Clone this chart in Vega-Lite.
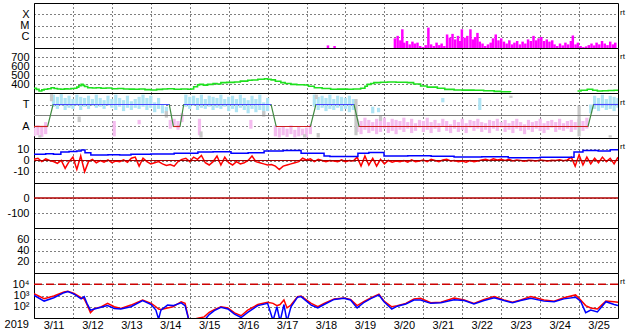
{
"$schema": "https://vega.github.io/schema/vega-lite/v6.json",
"background": "white",
"padding": {"left": 4, "top": 2, "right": 0, "bottom": 0},
"autosize": {"type": "pad"},
"bounds": "flush",
"spacing": 0,
"datasets": {
"xray": [
{"t":18.55,"xr":1.7e-7},{"t":18.72,"xr":1.5e-7},
{"t":20.27,"xr":7.2e-7},{"t":20.34,"xr":1.2e-6},{"t":20.41,"xr":4.8e-7},{"t":20.46,"xr":4.6e-6},{"t":20.51,"xr":3.0e-7},{"t":20.58,"xr":4.2e-7},{"t":20.65,"xr":2.1e-7},{"t":20.72,"xr":3.7e-7},{"t":20.78,"xr":2.5e-7},{"t":20.85,"xr":3.0e-7},{"t":20.92,"xr":1.5e-7},{"t":20.99,"xr":1.2e-7},{"t":21.06,"xr":1.8e-7},{"t":21.13,"xr":6.5e-6},{"t":21.2,"xr":2.1e-7},{"t":21.27,"xr":1.5e-7},{"t":21.34,"xr":3.0e-7},{"t":21.41,"xr":1.8e-7},{"t":21.47,"xr":2.5e-7},{"t":21.54,"xr":1.5e-7},{"t":21.61,"xr":1.6e-6},{"t":21.68,"xr":8.3e-7},{"t":21.75,"xr":1.8e-6},{"t":21.82,"xr":5.8e-7},{"t":21.89,"xr":1.2e-6},{"t":21.94,"xr":4.2e-7},{"t":21.99,"xr":4.6e-6},{"t":22.06,"xr":8.3e-7},{"t":22.13,"xr":1.2e-6},{"t":22.21,"xr":4.6e-6},{"t":22.27,"xr":5.8e-7},{"t":22.33,"xr":9.5e-7},{"t":22.39,"xr":2.2e-6},{"t":22.45,"xr":3.7e-7},{"t":22.52,"xr":2.5e-7},{"t":22.59,"xr":1.5e-7},{"t":22.66,"xr":2.1e-7},{"t":22.73,"xr":3.0e-7},{"t":22.79,"xr":7.2e-7},{"t":22.86,"xr":1.6e-6},{"t":22.93,"xr":4.8e-7},{"t":23.0,"xr":7.2e-7},{"t":23.07,"xr":3.7e-7},{"t":23.14,"xr":2.5e-7},{"t":23.21,"xr":4.8e-7},{"t":23.28,"xr":2.1e-7},{"t":23.34,"xr":3.0e-7},{"t":23.41,"xr":4.2e-7},{"t":23.48,"xr":2.1e-7},{"t":23.55,"xr":3.7e-7},{"t":23.62,"xr":2.5e-7},{"t":23.69,"xr":5.8e-7},{"t":23.76,"xr":4.2e-7},{"t":23.83,"xr":1.2e-6},{"t":23.9,"xr":4.8e-7},{"t":23.96,"xr":7.2e-7},{"t":24.03,"xr":9.5e-7},{"t":24.1,"xr":4.2e-7},{"t":24.17,"xr":5.8e-7},{"t":24.24,"xr":3.7e-7},{"t":24.31,"xr":4.8e-7},{"t":24.37,"xr":2.1e-7},{"t":24.44,"xr":1.5e-7},{"t":24.51,"xr":2.5e-7},{"t":24.58,"xr":1.7e-7},{"t":24.65,"xr":3.0e-7},{"t":24.72,"xr":2.1e-7},{"t":24.79,"xr":4.2e-7},{"t":24.84,"xr":1.3e-6},{"t":24.91,"xr":2.1e-7},{"t":24.97,"xr":3.0e-7},{"t":25.04,"xr":1.5e-7},{"t":25.11,"xr":1.2e-7},{"t":25.18,"xr":1.4e-7},{"t":25.25,"xr":1.8e-7},{"t":25.32,"xr":2.5e-7},{"t":25.39,"xr":1.7e-7},{"t":25.45,"xr":3.0e-7},{"t":25.52,"xr":2.1e-7},{"t":25.59,"xr":4.2e-7},{"t":25.66,"xr":2.5e-7},{"t":25.73,"xr":1.8e-7},{"t":25.8,"xr":3.7e-7},{"t":25.87,"xr":2.1e-7},{"t":25.93,"xr":3.0e-7}
],
"sw": [
{"t":11.0,"v":352,"g":1},{"t":11.06,"v":340,"g":1},{"t":11.13,"v":322,"g":1},{"t":11.2,"v":335,"g":1},{"t":11.26,"v":341,"g":1},{"t":11.35,"v":348,"g":1},{"t":11.44,"v":359,"g":1},{"t":11.52,"v":350,"g":1},{"t":11.6,"v":345,"g":1},{"t":11.69,"v":341,"g":1},{"t":11.78,"v":346,"g":1},{"t":11.87,"v":345,"g":1},{"t":11.95,"v":350,"g":1},{"t":12.04,"v":352,"g":1},{"t":12.1,"v":365,"g":1},{"t":12.15,"v":380,"g":1},{"t":12.21,"v":396,"g":1},{"t":12.26,"v":385,"g":1},{"t":12.3,"v":372,"g":1},{"t":12.38,"v":359,"g":1},{"t":12.5,"v":355,"g":1},{"t":12.6,"v":358,"g":1},{"t":12.72,"v":352,"g":1},{"t":12.85,"v":355,"g":1},{"t":13.0,"v":348,"g":1},{"t":13.15,"v":350,"g":1},{"t":13.3,"v":345,"g":1},{"t":13.45,"v":343,"g":1},{"t":13.58,"v":341,"g":1},{"t":13.7,"v":345,"g":1},{"t":13.85,"v":338,"g":1},{"t":14.01,"v":333,"g":1},{"t":14.15,"v":340,"g":1},{"t":14.3,"v":345,"g":1},{"t":14.43,"v":348,"g":1},{"t":14.6,"v":342,"g":1},{"t":14.78,"v":345,"g":1},{"t":14.95,"v":341,"g":1},{"t":15.03,"v":345,"g":1},{"t":15.1,"v":370,"g":1},{"t":15.2,"v":390,"g":1},{"t":15.25,"v":396,"g":1},{"t":15.35,"v":388,"g":1},{"t":15.46,"v":396,"g":1},{"t":15.6,"v":405,"g":1},{"t":15.7,"v":400,"g":1},{"t":15.8,"v":415,"g":1},{"t":15.95,"v":418,"g":1},{"t":16.15,"v":422,"g":1},{"t":16.3,"v":432,"g":1},{"t":16.49,"v":441,"g":1},{"t":16.6,"v":445,"g":1},{"t":16.75,"v":452,"g":1},{"t":16.92,"v":459,"g":1},{"t":17.0,"v":452,"g":1},{"t":17.09,"v":446,"g":1},{"t":17.2,"v":430,"g":1},{"t":17.34,"v":415,"g":1},{"t":17.45,"v":405,"g":1},{"t":17.6,"v":396,"g":1},{"t":17.75,"v":392,"g":1},{"t":17.94,"v":389,"g":1},{"t":18.05,"v":375,"g":1},{"t":18.2,"v":359,"g":1},{"t":18.4,"v":350,"g":1},{"t":18.62,"v":341,"g":1},{"t":18.8,"v":343,"g":1},{"t":19.05,"v":341,"g":1},{"t":19.2,"v":345,"g":1},{"t":19.39,"v":352,"g":1},{"t":19.5,"v":375,"g":1},{"t":19.56,"v":396,"g":1},{"t":19.65,"v":405,"g":1},{"t":19.73,"v":415,"g":1},{"t":19.9,"v":420,"g":1},{"t":20.08,"v":422,"g":1},{"t":20.3,"v":420,"g":1},{"t":20.59,"v":415,"g":1},{"t":20.75,"v":400,"g":1},{"t":20.93,"v":378,"g":1},{"t":21.1,"v":365,"g":1},{"t":21.36,"v":352,"g":1},{"t":21.55,"v":340,"g":1},{"t":21.79,"v":333,"g":1},{"t":22.0,"v":332,"g":1},{"t":22.3,"v":330,"g":1},{"t":22.55,"v":325,"g":1},{"t":22.82,"v":318,"g":1},{"t":23.0,"v":314,"g":1},{"t":23.24,"v":311,"g":1},
{"t":24.96,"v":322,"g":2},{"t":25.05,"v":330,"g":2},{"t":25.21,"v":341,"g":2},{"t":25.35,"v":330,"g":2},{"t":25.47,"v":322,"g":2},{"t":25.6,"v":325,"g":2},{"t":25.75,"v":328,"g":2},{"t":25.9,"v":330,"g":2},{"t":26.0,"v":332,"g":2}
],
"sec": [
{"t":11.0,"lo":-1.9,"hi":-1.1,"c":"A"},{"t":11.1,"lo":-1.8,"hi":-0.9,"c":"A"},{"t":11.2,"lo":-1.95,"hi":-1.0,"c":"A"},{"t":11.3,"lo":-1.7,"hi":-0.6,"c":"A"},
{"t":11.5,"lo":0.8,"hi":1.9,"c":"T"},{"t":11.6,"lo":0.6,"hi":1.7,"c":"T"},{"t":11.7,"lo":0.9,"hi":1.95,"c":"T"},{"t":11.8,"lo":0.5,"hi":1.6,"c":"T"},{"t":11.9,"lo":0.7,"hi":1.8,"c":"T"},{"t":12.0,"lo":0.6,"hi":1.5,"c":"T"},{"t":12.1,"lo":0.9,"hi":1.9,"c":"T"},{"t":12.2,"lo":0.5,"hi":1.7,"c":"T"},{"t":12.3,"lo":0.8,"hi":1.6,"c":"T"},{"t":12.4,"lo":0.6,"hi":1.8,"c":"T"},{"t":12.5,"lo":0.9,"hi":1.5,"c":"T"},{"t":12.6,"lo":0.7,"hi":1.9,"c":"T"},{"t":12.7,"lo":0.8,"hi":1.6,"c":"T"},{"t":12.8,"lo":0.6,"hi":1.4,"c":"T"},{"t":12.9,"lo":0.9,"hi":1.8,"c":"T"},{"t":13.0,"lo":0.7,"hi":1.5,"c":"T"},{"t":13.1,"lo":0.5,"hi":1.9,"c":"T"},{"t":13.2,"lo":0.8,"hi":1.6,"c":"T"},{"t":13.3,"lo":0.4,"hi":1.4,"c":"T"},{"t":13.4,"lo":0.7,"hi":1.8,"c":"T"},{"t":13.5,"lo":0.5,"hi":1.3,"c":"T"},{"t":13.6,"lo":0.7,"hi":1.5,"c":"T"},{"t":13.7,"lo":0.6,"hi":1.7,"c":"T"},{"t":13.8,"lo":0.8,"hi":1.9,"c":"T"},{"t":13.9,"lo":0.5,"hi":1.6,"c":"T"},{"t":14.0,"lo":0.7,"hi":1.8,"c":"T"},{"t":14.1,"lo":0.3,"hi":1.2,"c":"T"},{"t":14.2,"lo":0.6,"hi":1.6,"c":"T"},{"t":14.3,"lo":0.2,"hi":1.0,"c":"T"},{"t":14.4,"lo":0.0,"hi":0.8,"c":"T"},
{"t":14.5,"lo":-1.2,"hi":-0.4,"c":"A"},{"t":14.6,"lo":-0.9,"hi":-0.3,"c":"A"},{"t":14.7,"lo":-1.3,"hi":-0.5,"c":"A"},{"t":14.8,"lo":-0.6,"hi":0.2,"c":"A"},
{"t":14.9,"lo":0.8,"hi":1.9,"c":"T"},{"t":15.0,"lo":0.6,"hi":1.7,"c":"T"},{"t":15.1,"lo":0.9,"hi":1.8,"c":"T"},{"t":15.2,"lo":0.5,"hi":1.6,"c":"T"},{"t":15.3,"lo":0.7,"hi":1.9,"c":"T"},{"t":15.4,"lo":0.6,"hi":1.5,"c":"T"},{"t":15.5,"lo":0.8,"hi":1.8,"c":"T"},{"t":15.6,"lo":0.5,"hi":1.7,"c":"T"},{"t":15.7,"lo":0.7,"hi":1.6,"c":"T"},{"t":15.8,"lo":0.6,"hi":1.9,"c":"T"},{"t":15.9,"lo":0.8,"hi":1.5,"c":"T"},{"t":16.0,"lo":0.4,"hi":1.7,"c":"T"},{"t":16.1,"lo":0.6,"hi":1.8,"c":"T"},{"t":16.2,"lo":0.3,"hi":1.5,"c":"T"},{"t":16.3,"lo":0.7,"hi":1.9,"c":"T"},{"t":16.4,"lo":0.5,"hi":1.6,"c":"T"},{"t":16.5,"lo":0.2,"hi":1.4,"c":"T"},{"t":16.6,"lo":0.6,"hi":1.8,"c":"T"},{"t":16.7,"lo":0.3,"hi":1.5,"c":"T"},{"t":16.8,"lo":0.5,"hi":1.9,"c":"T"},{"t":16.9,"lo":0.1,"hi":1.2,"c":"T"},{"t":17.0,"lo":0.4,"hi":1.6,"c":"T"},
{"t":17.2,"lo":-1.9,"hi":-0.9,"c":"A"},{"t":17.3,"lo":-2.0,"hi":-1.1,"c":"A"},{"t":17.4,"lo":-1.8,"hi":-1.0,"c":"A"},{"t":17.5,"lo":-1.95,"hi":-1.2,"c":"A"},{"t":17.6,"lo":-1.7,"hi":-0.9,"c":"A"},{"t":17.7,"lo":-2.0,"hi":-1.3,"c":"A"},{"t":17.8,"lo":-1.9,"hi":-1.0,"c":"A"},{"t":17.9,"lo":-1.8,"hi":-1.2,"c":"A"},{"t":18.0,"lo":-2.0,"hi":-1.1,"c":"A"},{"t":18.1,"lo":-1.7,"hi":-0.8,"c":"A"},
{"t":18.2,"lo":0.8,"hi":1.9,"c":"T"},{"t":18.3,"lo":0.5,"hi":1.7,"c":"T"},{"t":18.4,"lo":0.7,"hi":1.8,"c":"T"},{"t":18.5,"lo":0.4,"hi":1.6,"c":"T"},{"t":18.6,"lo":0.6,"hi":1.9,"c":"T"},{"t":18.7,"lo":0.5,"hi":1.5,"c":"T"},{"t":18.8,"lo":0.7,"hi":1.8,"c":"T"},{"t":18.9,"lo":0.4,"hi":1.7,"c":"T"},{"t":19.0,"lo":0.6,"hi":1.6,"c":"T"},{"t":19.1,"lo":0.3,"hi":1.8,"c":"T"},{"t":19.2,"lo":0.5,"hi":1.5,"c":"T"},
{"t":19.3,"lo":-1.5,"hi":-0.3,"c":"A"},{"t":19.4,"lo":-1.7,"hi":-0.5,"c":"A"},{"t":19.5,"lo":-1.3,"hi":-0.2,"c":"A"},{"t":19.6,"lo":-1.6,"hi":-0.4,"c":"A"},{"t":19.7,"lo":-1.4,"hi":-0.6,"c":"A"},{"t":19.8,"lo":-1.7,"hi":-0.3,"c":"A"},{"t":19.9,"lo":-1.5,"hi":-0.5,"c":"A"},{"t":20.0,"lo":-1.2,"hi":-0.2,"c":"A"},{"t":20.1,"lo":-1.6,"hi":-0.6,"c":"A"},{"t":20.2,"lo":-1.4,"hi":-0.3,"c":"A"},{"t":20.3,"lo":-1.7,"hi":-0.4,"c":"A"},{"t":20.4,"lo":-1.3,"hi":-0.5,"c":"A"},{"t":20.5,"lo":-1.5,"hi":-0.2,"c":"A"},{"t":20.6,"lo":-1.2,"hi":-0.6,"c":"A"},{"t":20.7,"lo":-1.6,"hi":-0.3,"c":"A"},{"t":20.8,"lo":-1.4,"hi":-0.7,"c":"A"},{"t":20.9,"lo":-1.1,"hi":-0.4,"c":"A"},{"t":21.0,"lo":-1.5,"hi":-0.5,"c":"A"},{"t":21.1,"lo":-1.3,"hi":-0.2,"c":"A"},{"t":21.2,"lo":-1.6,"hi":-0.6,"c":"A"},{"t":21.3,"lo":-1.2,"hi":-0.4,"c":"A"},{"t":21.4,"lo":-1.5,"hi":-0.7,"c":"A"},{"t":21.5,"lo":-1.0,"hi":-0.3,"c":"A"},{"t":21.6,"lo":-1.4,"hi":-0.5,"c":"A"},{"t":21.7,"lo":-1.6,"hi":-0.8,"c":"A"},{"t":21.8,"lo":-1.2,"hi":-0.4,"c":"A"},{"t":21.9,"lo":-1.5,"hi":-0.6,"c":"A"},{"t":22.0,"lo":-1.3,"hi":-0.3,"c":"A"},{"t":22.1,"lo":-1.6,"hi":-0.7,"c":"A"},{"t":22.2,"lo":-1.1,"hi":-0.4,"c":"A"},{"t":22.3,"lo":-1.4,"hi":-0.5,"c":"A"},{"t":22.4,"lo":-1.2,"hi":-0.3,"c":"A"},{"t":22.5,"lo":-1.5,"hi":-0.6,"c":"A"},{"t":22.6,"lo":-1.3,"hi":-0.7,"c":"A"},{"t":22.7,"lo":-1.6,"hi":-0.4,"c":"A"},{"t":22.8,"lo":-1.2,"hi":-0.5,"c":"A"},{"t":22.9,"lo":-1.4,"hi":-0.3,"c":"A"},{"t":23.0,"lo":-1.1,"hi":-0.6,"c":"A"},{"t":23.1,"lo":-1.5,"hi":-0.4,"c":"A"},{"t":23.2,"lo":-1.3,"hi":-0.7,"c":"A"},{"t":23.3,"lo":-1.6,"hi":-0.5,"c":"A"},{"t":23.4,"lo":-1.2,"hi":-0.3,"c":"A"},{"t":23.5,"lo":-1.4,"hi":-0.6,"c":"A"},{"t":23.6,"lo":-1.7,"hi":-0.8,"c":"A"},{"t":23.7,"lo":-1.3,"hi":-0.4,"c":"A"},{"t":23.8,"lo":-1.5,"hi":-0.6,"c":"A"},{"t":23.9,"lo":-1.2,"hi":-0.5,"c":"A"},{"t":24.0,"lo":-1.4,"hi":-0.3,"c":"A"},{"t":24.1,"lo":-1.6,"hi":-0.7,"c":"A"},{"t":24.2,"lo":-1.3,"hi":-0.5,"c":"A"},{"t":24.3,"lo":-1.1,"hi":-0.4,"c":"A"},{"t":24.4,"lo":-1.5,"hi":-0.6,"c":"A"},{"t":24.5,"lo":-1.3,"hi":-0.3,"c":"A"},{"t":24.6,"lo":-1.4,"hi":-0.7,"c":"A"},{"t":24.7,"lo":-1.2,"hi":-0.5,"c":"A"},{"t":24.8,"lo":-1.5,"hi":-0.4,"c":"A"},{"t":24.9,"lo":-1.3,"hi":-0.6,"c":"A"},{"t":25.0,"lo":-1.1,"hi":-0.3,"c":"A"},{"t":25.1,"lo":-1.4,"hi":-0.5,"c":"A"},{"t":25.2,"lo":-1.2,"hi":-0.2,"c":"A"},
{"t":25.3,"lo":0.2,"hi":1.0,"c":"T"},{"t":25.4,"lo":0.6,"hi":1.8,"c":"T"},{"t":25.5,"lo":0.4,"hi":1.6,"c":"T"},{"t":25.6,"lo":0.7,"hi":1.9,"c":"T"},{"t":25.7,"lo":0.5,"hi":1.5,"c":"T"},{"t":25.8,"lo":0.6,"hi":1.8,"c":"T"},{"t":25.9,"lo":0.4,"hi":1.7,"c":"T"},{"t":26.0,"lo":0.7,"hi":1.6,"c":"T"},
{"t":13.06,"lo":-1.9,"hi":-0.5,"c":"A"},{"t":13.7,"lo":-0.8,"hi":-0.4,"c":"A"},{"t":15.25,"lo":-1.8,"hi":-0.3,"c":"A"},{"t":16.57,"lo":-1.2,"hi":-0.4,"c":"A"},
{"t":19.7,"lo":0.2,"hi":0.8,"c":"T"},{"t":19.85,"lo":0.3,"hi":0.7,"c":"T"},{"t":21.5,"lo":1.2,"hi":1.6,"c":"T"},{"t":22.45,"lo":0.5,"hi":1.6,"c":"T"},
{"t":11.15,"lo":-2.0,"hi":-1.8,"c":"G"},{"t":11.45,"lo":1.3,"hi":1.95,"c":"G"},{"t":12.16,"lo":-0.6,"hi":-0.1,"c":"G"},{"t":14.4,"lo":-0.2,"hi":0.4,"c":"G"},{"t":15.29,"lo":-2.0,"hi":-1.45,"c":"G"},{"t":16.9,"lo":-0.1,"hi":0.4,"c":"G"},{"t":17.95,"lo":-2.0,"hi":-1.7,"c":"G"},{"t":18.25,"lo":1.5,"hi":1.9,"c":"G"},{"t":18.3,"lo":-2.0,"hi":-1.6,"c":"G"},{"t":19.27,"lo":-1.8,"hi":1.5,"c":"G"},{"t":19.9,"lo":-0.5,"hi":0.0,"c":"G"},{"t":23.25,"lo":1.6,"hi":1.8,"c":"G"},{"t":25.0,"lo":-1.9,"hi":0.9,"c":"G"},{"t":25.8,"lo":-2.0,"hi":-1.8,"c":"G"}
],
"sp": [
{"t":11.0,"v":-1},{"t":11.35,"v":-1},{"t":11.49,"v":1},{"t":14.475,"v":1},{"t":14.58,"v":-1},{"t":14.75,"v":-1},{"t":14.845,"v":1},{"t":17.09,"v":1},{"t":17.22,"v":-1},{"t":18.1,"v":-1},{"t":18.24,"v":1},{"t":19.22,"v":1},{"t":19.35,"v":-1},{"t":25.23,"v":-1},{"t":25.37,"v":1},{"t":26.0,"v":1}
],
"sg": [
{"t":11.49,"e":14.475,"v":1,"c":"T"},{"t":14.845,"e":17.09,"v":1,"c":"T"},{"t":18.24,"e":19.22,"v":1,"c":"T"},{"t":25.37,"e":26.0,"v":1,"c":"T"},
{"t":11.0,"e":11.35,"v":-1,"c":"A"},{"t":14.58,"e":14.75,"v":-1,"c":"A"},{"t":17.22,"e":18.1,"v":-1,"c":"A"},{"t":19.35,"e":25.23,"v":-1,"c":"A"}
],
"bz": [
{"t":11.0,"v":1},{"t":11.1,"v":2},{"t":11.2,"v":-1},{"t":11.3,"v":1.5},{"t":11.4,"v":0},{"t":11.5,"v":-1},{"t":11.6,"v":-2.5},{"t":11.7,"v":0},{"t":11.8,"v":-7},{"t":11.9,"v":-1},
{"t":12.0,"v":3},{"t":12.1,"v":-8},{"t":12.2,"v":4},{"t":12.3,"v":-10},{"t":12.4,"v":-1},{"t":12.5,"v":1},{"t":12.6,"v":-2},{"t":12.7,"v":0},{"t":12.8,"v":-1.5},{"t":12.9,"v":0.5},
{"t":13.0,"v":-2},{"t":13.1,"v":-0.5},{"t":13.2,"v":-1},{"t":13.3,"v":0.5},{"t":13.4,"v":-1.5},{"t":13.5,"v":2},{"t":13.6,"v":3},{"t":13.7,"v":-5},{"t":13.8,"v":2},{"t":13.9,"v":-1},
{"t":14.0,"v":-3},{"t":14.1,"v":-2},{"t":14.2,"v":-1},{"t":14.3,"v":-3},{"t":14.4,"v":-4.5},{"t":14.5,"v":-3.5},{"t":14.6,"v":-5},{"t":14.7,"v":-1},{"t":14.8,"v":1},{"t":14.9,"v":2},
{"t":15.0,"v":-1},{"t":15.1,"v":3},{"t":15.2,"v":1},{"t":15.3,"v":4.5},{"t":15.4,"v":-2},{"t":15.5,"v":-4},{"t":15.6,"v":-1},{"t":15.7,"v":4},{"t":15.8,"v":-4},{"t":15.9,"v":3},
{"t":16.0,"v":-2},{"t":16.1,"v":-4},{"t":16.2,"v":-1},{"t":16.3,"v":-3},{"t":16.4,"v":-2},{"t":16.5,"v":0},{"t":16.6,"v":4},{"t":16.7,"v":-1},{"t":16.8,"v":-2},{"t":16.9,"v":-3},
{"t":17.0,"v":-4},{"t":17.1,"v":-3.5},{"t":17.2,"v":-5},{"t":17.3,"v":-8},{"t":17.4,"v":-5},{"t":17.5,"v":-4},{"t":17.6,"v":-3},{"t":17.7,"v":-2},{"t":17.8,"v":-1},{"t":17.9,"v":2},
{"t":18.0,"v":0.5},{"t":18.1,"v":1.5},{"t":18.2,"v":-1},{"t":18.3,"v":1},{"t":18.4,"v":0},{"t":18.5,"v":-1},{"t":18.6,"v":0},{"t":18.7,"v":-0.5},{"t":18.8,"v":-1},{"t":18.9,"v":0.5},
{"t":19.0,"v":-1},{"t":19.1,"v":0},{"t":19.2,"v":-0.5},{"t":19.3,"v":3},{"t":19.4,"v":-5},{"t":19.5,"v":4},{"t":19.6,"v":-4},{"t":19.7,"v":2},{"t":19.8,"v":-5},{"t":19.9,"v":1},
{"t":20.0,"v":-3},{"t":20.1,"v":0},{"t":20.2,"v":-1.5},{"t":20.3,"v":-0.5},{"t":20.4,"v":-1},{"t":20.5,"v":0},{"t":20.6,"v":-1.5},{"t":20.7,"v":0.5},{"t":20.8,"v":-1},{"t":20.9,"v":-0.5},
{"t":21.0,"v":0.5},{"t":21.1,"v":-1},{"t":21.2,"v":1},{"t":21.3,"v":0},{"t":21.4,"v":-1},{"t":21.5,"v":0.5},{"t":21.6,"v":1},{"t":21.7,"v":-0.5},{"t":21.8,"v":0},{"t":21.9,"v":-1},
{"t":22.0,"v":-0.5},{"t":22.1,"v":-1.5},{"t":22.2,"v":0},{"t":22.3,"v":-1},{"t":22.4,"v":-0.5},{"t":22.5,"v":0.5},{"t":22.6,"v":1},{"t":22.7,"v":0},{"t":22.8,"v":1.5},{"t":22.9,"v":0.5},
{"t":23.0,"v":1},{"t":23.1,"v":0},{"t":23.2,"v":1},{"t":23.3,"v":-0.5},{"t":23.4,"v":0.5},{"t":23.5,"v":0},{"t":23.6,"v":-0.7},{"t":23.7,"v":0.3},{"t":23.8,"v":0},{"t":23.9,"v":-0.5},
{"t":24.0,"v":0.5},{"t":24.1,"v":0},{"t":24.2,"v":-0.5},{"t":24.3,"v":0.3},{"t":24.4,"v":0},{"t":24.5,"v":0.7},{"t":24.6,"v":-0.3},{"t":24.7,"v":0.5},{"t":24.8,"v":3},{"t":24.9,"v":-5},
{"t":25.0,"v":5},{"t":25.1,"v":-4},{"t":25.2,"v":3},{"t":25.3,"v":-3},{"t":25.4,"v":2},{"t":25.5,"v":-2},{"t":25.6,"v":3},{"t":25.7,"v":-1},{"t":25.8,"v":2},{"t":25.9,"v":-3},{"t":26.0,"v":3}
],
"bt": [
{"t":11.0,"v":5.5},{"t":11.3,"v":6},{"t":11.5,"v":5.5},{"t":11.69,"v":7.5},{"t":11.9,"v":8},{"t":12.1,"v":8.5},{"t":12.21,"v":9.3},{"t":12.31,"v":7},{"t":12.46,"v":4.9},{"t":12.9,"v":5.2},{"t":13.2,"v":4.8},{"t":13.49,"v":5.5},{"t":14.0,"v":5.8},{"t":14.6,"v":6.4},{"t":15.21,"v":7.5},{"t":15.6,"v":7.8},{"t":16.06,"v":6.4},{"t":16.5,"v":6.8},{"t":16.91,"v":8.4},{"t":17.4,"v":8.8},{"t":17.86,"v":6.4},{"t":18.45,"v":4},{"t":18.6,"v":3.5},{"t":19.32,"v":6.4},{"t":19.6,"v":7.2},{"t":19.99,"v":4},{"t":20.6,"v":4.3},{"t":21.2,"v":3.8},{"t":21.79,"v":3.1},{"t":22.5,"v":3.4},{"t":23.18,"v":2.5},{"t":24.0,"v":2.8},{"t":24.87,"v":7.5},{"t":25.1,"v":8.8},{"t":25.49,"v":8.4},{"t":25.8,"v":9.5},{"t":26.0,"v":10}
],
"el": [
{"t":11.0,"r":1450,"b":1050},{"t":11.26,"r":525,"b":320},{"t":11.51,"r":910,"b":630},{"t":11.77,"r":2040,"b":1780},{"t":11.87,"r":2340,"b":2240},{"t":12.03,"r":1550,"b":1320},{"t":12.21,"r":630,"b":500},{"t":12.29,"r":500,"b":800},{"t":12.36,"r":160,"b":200},{"t":12.45,"r":30,"b":50},{"t":12.55,"r":68,"b":63},{"t":12.72,"r":95,"b":89},{"t":12.89,"r":200,"b":126},{"t":13.06,"r":100,"b":71},{"t":13.23,"r":71,"b":63},{"t":13.49,"r":141,"b":100},{"t":13.79,"r":400,"b":355},{"t":14.01,"r":200,"b":158},{"t":14.13,"r":100,"b":50},{"t":14.2,"r":63,"b":8},{"t":14.26,"r":56,"b":50},{"t":14.43,"r":79,"b":141},{"t":14.57,"r":100,"b":126},{"t":14.78,"r":280,"b":224},{"t":14.88,"r":200,"b":126},{"t":14.98,"r":6,"b":6},{"t":15.11,"r":8,"b":3},{"t":15.24,"r":10,"b":3},{"t":15.37,"r":12.6,"b":6},{"t":15.5,"r":32,"b":20},{"t":15.63,"r":56,"b":45},{"t":15.8,"r":100,"b":89},{"t":15.98,"r":79,"b":63},{"t":16.15,"r":28,"b":22},{"t":16.32,"r":16,"b":11},{"t":16.49,"r":50,"b":32},{"t":16.75,"r":158,"b":126},{"t":17.0,"r":251,"b":200},{"t":17.14,"r":200,"b":6},{"t":17.24,"r":126,"b":100},{"t":17.32,"r":158,"b":5},{"t":17.42,"r":400,"b":158},{"t":17.5,"r":79,"b":5},{"t":17.6,"r":141,"b":100},{"t":17.77,"r":794,"b":708},{"t":17.86,"r":891,"b":794},{"t":18.12,"r":200,"b":141},{"t":18.29,"r":100,"b":79},{"t":18.45,"r":200,"b":158},{"t":18.71,"r":500,"b":447},{"t":18.96,"r":603,"b":562},{"t":19.13,"r":447,"b":398},{"t":19.3,"r":126,"b":79},{"t":19.48,"r":295,"b":251},{"t":19.65,"r":603,"b":525},{"t":19.86,"r":1318,"b":1122},{"t":19.99,"r":316,"b":282},{"t":20.19,"r":100,"b":63},{"t":20.33,"r":126,"b":112},{"t":20.55,"r":200,"b":178},{"t":20.76,"r":500,"b":398},{"t":20.93,"r":562,"b":398},{"t":21.19,"r":224,"b":200},{"t":21.45,"r":251,"b":224},{"t":21.79,"r":603,"b":417},{"t":22.05,"r":398,"b":355},{"t":22.3,"r":200,"b":178},{"t":22.56,"r":447,"b":355},{"t":22.82,"r":794,"b":631},{"t":23.07,"r":398,"b":355},{"t":23.29,"r":251,"b":224},{"t":23.5,"r":398,"b":355},{"t":23.76,"r":794,"b":562},{"t":24.1,"r":398,"b":316},{"t":24.36,"r":316,"b":282},{"t":24.61,"r":631,"b":501},{"t":24.91,"r":1122,"b":708},{"t":25.04,"r":398,"b":316},{"t":25.17,"r":126,"b":30},{"t":25.3,"r":79,"b":50},{"t":25.47,"r":63,"b":35},{"t":25.69,"r":316,"b":282},{"t":25.9,"r":282,"b":158},{"t":26.0,"r":251,"b":126}
],
"one": [{"k": 1}]
},
"vconcat": [
{
"width": 584, "height": 45,
"layer": [
{"data": {"name": "xray"}, "mark": {"type": "rule", "color": "#ff00ff", "strokeWidth": 2.5, "clip": true},
 "encoding": {
  "x": {"field": "t", "type": "quantitative", "title": null, "scale": {"domain": [11, 26], "nice": false, "zero": false}, "axis": {"values": [11,12,13,14,15,16,17,18,19,20,21,22,23,24,25], "labels": false}},
  "y": {"field": "xr", "type": "quantitative", "title": null, "scale": {"type": "log", "domain": [1e-7, 1e-3], "nice": false}, "axis": {"values": [1e-6, 1e-5, 1e-4], "labelOverlap": false, "labelExpr": "datum.value > 5e-5 ? 'X' : (datum.value > 5e-6 ? 'M' : 'C')"}},
  "y2": {"datum": 1e-7}}},
{"data": {"name": "one"}, "mark": {"type": "text", "text": "rt", "align": "left", "baseline": "middle", "dx": 2, "fontSize": 8, "font": "Liberation Sans", "color": "black"},
 "encoding": {
  "x": {"datum": 26, "type": "quantitative", "title": null, "scale": {"domain": [11, 26], "nice": false, "zero": false}, "axis": {"values": [11,12,13,14,15,16,17,18,19,20,21,22,23,24,25], "labels": false}},
  "y": {"datum": 1.3e-4, "type": "quantitative", "title": null, "scale": {"type": "log", "domain": [1e-7, 1e-3], "nice": false}, "axis": {"values": [1e-6, 1e-5, 1e-4], "labelOverlap": false, "labelExpr": "datum.value > 5e-5 ? 'X' : (datum.value > 5e-6 ? 'M' : 'C')"}}}}
]
},
{
"width": 584, "height": 45,
"layer": [
{"data": {"name": "sw"}, "mark": {"type": "line", "color": "#1ee01e", "strokeWidth": 1.6, "interpolate": "step-after", "clip": true},
 "encoding": {
  "x": {"field": "t", "type": "quantitative", "title": null, "scale": {"domain": [11, 26], "nice": false, "zero": false}, "axis": {"values": [11,12,13,14,15,16,17,18,19,20,21,22,23,24,25], "labels": false}},
  "y": {"field": "v", "type": "quantitative", "title": null, "scale": {"domain": [300, 800], "nice": false, "zero": false}, "axis": {"values": [400, 500, 600, 700], "labelOverlap": false}},
  "detail": {"field": "g", "type": "nominal"}}},
{"data": {"name": "one"}, "mark": {"type": "text", "text": "rt", "align": "left", "baseline": "middle", "dx": 2, "fontSize": 8, "font": "Liberation Sans", "color": "black"},
 "encoding": {
  "x": {"datum": 26, "type": "quantitative", "title": null, "scale": {"domain": [11, 26], "nice": false, "zero": false}, "axis": {"values": [11,12,13,14,15,16,17,18,19,20,21,22,23,24,25], "labels": false}},
  "y": {"datum": 700, "type": "quantitative", "title": null, "scale": {"domain": [300, 800], "nice": false, "zero": false}, "axis": {"values": [400, 500, 600, 700], "labelOverlap": false}}}}
]
},
{
"width": 584, "height": 45,
"layer": [
{"data": {"name": "sec"}, "mark": {"type": "rule", "strokeWidth": 3.2, "clip": true},
 "encoding": {
  "x": {"field": "t", "type": "quantitative", "title": null, "scale": {"domain": [11, 26], "nice": false, "zero": false}, "axis": {"values": [11,12,13,14,15,16,17,18,19,20,21,22,23,24,25], "labels": false}},
  "y": {"field": "lo", "type": "quantitative", "title": null, "scale": {"domain": [-2.05, 2.05], "nice": false, "zero": false}, "axis": {"values": [1, -1], "labelOverlap": false, "labelExpr": "datum.value > 0 ? 'T' : 'A'"}},
  "y2": {"field": "hi"},
  "color": {"field": "c", "type": "nominal", "scale": {"domain": ["T", "A", "G"], "range": ["#aee4f4", "#f4bcef", "#c8c8c8"]}, "legend": null}}},
{"data": {"name": "one"}, "mark": {"type": "rule", "color": "#808080", "strokeWidth": 1.2},
 "encoding": {
  "y": {"datum": 0, "type": "quantitative", "title": null, "scale": {"domain": [-2.05, 2.05], "nice": false, "zero": false}, "axis": {"values": [1, -1], "labelOverlap": false, "labelExpr": "datum.value > 0 ? 'T' : 'A'"}}}},
{"data": {"name": "sp"}, "mark": {"type": "line", "color": "#3f8a3f", "strokeWidth": 1.2},
 "encoding": {
  "x": {"field": "t", "type": "quantitative", "title": null, "scale": {"domain": [11, 26], "nice": false, "zero": false}, "axis": {"values": [11,12,13,14,15,16,17,18,19,20,21,22,23,24,25], "labels": false}},
  "y": {"field": "v", "type": "quantitative", "title": null, "scale": {"domain": [-2.05, 2.05], "nice": false, "zero": false}, "axis": {"values": [1, -1], "labelOverlap": false, "labelExpr": "datum.value > 0 ? 'T' : 'A'"}}}},
{"data": {"name": "sg"}, "mark": {"type": "rule", "strokeWidth": 1.2},
 "encoding": {
  "x": {"field": "t", "type": "quantitative", "title": null, "scale": {"domain": [11, 26], "nice": false, "zero": false}, "axis": {"values": [11,12,13,14,15,16,17,18,19,20,21,22,23,24,25], "labels": false}},
  "x2": {"field": "e", "title": null},
  "y": {"field": "v", "type": "quantitative", "title": null, "scale": {"domain": [-2.05, 2.05], "nice": false, "zero": false}, "axis": {"values": [1, -1], "labelOverlap": false, "labelExpr": "datum.value > 0 ? 'T' : 'A'"}},
  "color": {"field": "c", "type": "nominal", "scale": {"domain": ["T", "A", "G"], "range": ["#4848ff", "#cc2020", "#808080"]}, "legend": null}}},
{"data": {"name": "one"}, "mark": {"type": "text", "text": "rt", "align": "left", "baseline": "middle", "dx": 2, "fontSize": 8, "font": "Liberation Sans", "color": "black"},
 "encoding": {
  "x": {"datum": 26, "type": "quantitative", "title": null, "scale": {"domain": [11, 26], "nice": false, "zero": false}, "axis": {"values": [11,12,13,14,15,16,17,18,19,20,21,22,23,24,25], "labels": false}},
  "y": {"datum": 1.18, "type": "quantitative", "title": null, "scale": {"domain": [-2.05, 2.05], "nice": false, "zero": false}, "axis": {"values": [1, -1], "labelOverlap": false, "labelExpr": "datum.value > 0 ? 'T' : 'A'"}}}}
],
"resolve": {"scale": {"color": "independent"}}
},
{
"width": 584, "height": 45,
"layer": [
{"data": {"name": "bz"}, "mark": {"type": "line", "color": "#ff0000", "strokeWidth": 1.5, "clip": true},
 "encoding": {
  "x": {"field": "t", "type": "quantitative", "title": null, "scale": {"domain": [11, 26], "nice": false, "zero": false}, "axis": {"values": [11,12,13,14,15,16,17,18,19,20,21,22,23,24,25], "labels": false}},
  "y": {"field": "v", "type": "quantitative", "title": null, "scale": {"domain": [-20, 20], "nice": false, "zero": false}, "axis": {"values": [10, 0, -10], "labelOverlap": false, "labelExpr": "datum.value < 0 ? '-' + abs(datum.value) : '' + datum.value"}}}},
{"data": {"name": "bt"}, "mark": {"type": "line", "color": "#0000ff", "strokeWidth": 1.5, "interpolate": "step-after", "clip": true},
 "encoding": {
  "x": {"field": "t", "type": "quantitative", "title": null, "scale": {"domain": [11, 26], "nice": false, "zero": false}, "axis": {"values": [11,12,13,14,15,16,17,18,19,20,21,22,23,24,25], "labels": false}},
  "y": {"field": "v", "type": "quantitative", "title": null, "scale": {"domain": [-20, 20], "nice": false, "zero": false}, "axis": {"values": [10, 0, -10], "labelOverlap": false, "labelExpr": "datum.value < 0 ? '-' + abs(datum.value) : '' + datum.value"}}}},
{"data": {"name": "one"}, "mark": {"type": "rule", "color": "#a00000", "strokeWidth": 1},
 "encoding": {
  "y": {"datum": 0, "type": "quantitative", "title": null, "scale": {"domain": [-20, 20], "nice": false, "zero": false}, "axis": {"values": [10, 0, -10], "labelOverlap": false, "labelExpr": "datum.value < 0 ? '-' + abs(datum.value) : '' + datum.value"}}}},
{"data": {"name": "one"}, "mark": {"type": "text", "text": "rt", "align": "left", "baseline": "middle", "dx": 2, "fontSize": 8, "font": "Liberation Sans", "color": "black"},
 "encoding": {
  "x": {"datum": 26, "type": "quantitative", "title": null, "scale": {"domain": [11, 26], "nice": false, "zero": false}, "axis": {"values": [11,12,13,14,15,16,17,18,19,20,21,22,23,24,25], "labels": false}},
  "y": {"datum": 12, "type": "quantitative", "title": null, "scale": {"domain": [-20, 20], "nice": false, "zero": false}, "axis": {"values": [10, 0, -10], "labelOverlap": false, "labelExpr": "datum.value < 0 ? '-' + abs(datum.value) : '' + datum.value"}}}}
]
},
{
"width": 584, "height": 45,
"layer": [
{"data": {"name": "one"}, "mark": {"type": "rule", "color": "#b00000", "strokeWidth": 1.5},
 "encoding": {
  "x": {"datum": 11, "type": "quantitative", "title": null, "scale": {"domain": [11, 26], "nice": false, "zero": false}, "axis": {"values": [11,12,13,14,15,16,17,18,19,20,21,22,23,24,25], "labels": false}},
  "x2": {"datum": 26},
  "y": {"datum": 0, "type": "quantitative", "title": null, "scale": {"domain": [-200, 100], "nice": false, "zero": false}, "axis": {"values": [0, -100], "labelOverlap": false, "labelExpr": "datum.value < 0 ? '-' + abs(datum.value) : '' + datum.value"}}}}
]
},
{
"width": 584, "height": 45,
"layer": [
{"data": {"values": []}, "mark": {"type": "point"},
 "encoding": {
  "x": {"field": "t", "type": "quantitative", "title": null, "scale": {"domain": [11, 26], "nice": false, "zero": false}, "axis": {"values": [11,12,13,14,15,16,17,18,19,20,21,22,23,24,25], "labels": false}},
  "y": {"field": "v", "type": "quantitative", "title": null, "scale": {"domain": [0, 80], "nice": false, "zero": false}, "axis": {"values": [20, 40, 60], "labelOverlap": false}}}}
]
},
{
"width": 584, "height": 45,
"layer": [
{"data": {"name": "el"}, "mark": {"type": "line", "color": "#ff0000", "strokeWidth": 1.5, "clip": true},
 "encoding": {
  "x": {"field": "t", "type": "quantitative", "title": null, "scale": {"domain": [11, 26], "nice": false, "zero": false}, "axis": {"values": [11,12,13,14,15,16,17,18,19,20,21,22,23,24,25], "labelOverlap": false, "labelExpr": "'3/' + datum.value", "labelOffset": 19.47, "labelPadding": 1}},
  "y": {"field": "r", "type": "quantitative", "title": null, "scale": {"type": "log", "domain": [10, 100000], "nice": false}, "axis": {"values": [100, 1000, 10000], "labelOverlap": false, "labelExpr": "datum.value > 5000 ? '10⁴' : (datum.value > 500 ? '10³' : '10²')"}}}},
{"data": {"name": "el"}, "mark": {"type": "line", "color": "#0000ff", "strokeWidth": 1.5, "clip": true},
 "encoding": {
  "x": {"field": "t", "type": "quantitative", "title": null, "scale": {"domain": [11, 26], "nice": false, "zero": false}, "axis": {"values": [11,12,13,14,15,16,17,18,19,20,21,22,23,24,25], "labelOverlap": false, "labelExpr": "'3/' + datum.value", "labelOffset": 19.47, "labelPadding": 1}},
  "y": {"field": "b", "type": "quantitative", "title": null, "scale": {"type": "log", "domain": [10, 100000], "nice": false}, "axis": {"values": [100, 1000, 10000], "labelOverlap": false, "labelExpr": "datum.value > 5000 ? '10⁴' : (datum.value > 500 ? '10³' : '10²')"}}}},
{"data": {"name": "one"}, "mark": {"type": "rule", "color": "#cc0000", "strokeWidth": 1.5, "strokeDash": [8, 4]},
 "encoding": {
  "y": {"datum": 10000, "type": "quantitative", "title": null, "scale": {"type": "log", "domain": [10, 100000], "nice": false}, "axis": {"values": [100, 1000, 10000], "labelOverlap": false, "labelExpr": "datum.value > 5000 ? '10⁴' : (datum.value > 500 ? '10³' : '10²')"}}}},
{"data": {"name": "one"}, "mark": {"type": "text", "text": "rt", "align": "left", "baseline": "middle", "dx": 2, "fontSize": 8, "font": "Liberation Sans", "color": "black"},
 "encoding": {
  "x": {"datum": 26, "type": "quantitative", "title": null, "scale": {"domain": [11, 26], "nice": false, "zero": false}, "axis": {"values": [11,12,13,14,15,16,17,18,19,20,21,22,23,24,25], "labelOverlap": false, "labelExpr": "'3/' + datum.value", "labelOffset": 19.47, "labelPadding": 1}},
  "y": {"datum": 15800, "type": "quantitative", "title": null, "scale": {"type": "log", "domain": [10, 100000], "nice": false}, "axis": {"values": [100, 1000, 10000], "labelOverlap": false, "labelExpr": "datum.value > 5000 ? '10⁴' : (datum.value > 500 ? '10³' : '10²')"}}}},
{"data": {"name": "one"}, "mark": {"type": "text", "text": "2019", "align": "right", "baseline": "middle", "dx": -5, "fontSize": 11, "font": "Liberation Sans", "color": "black"},
 "encoding": {
  "x": {"datum": 11, "type": "quantitative", "title": null, "scale": {"domain": [11, 26], "nice": false, "zero": false}, "axis": {"values": [11,12,13,14,15,16,17,18,19,20,21,22,23,24,25], "labelOverlap": false, "labelExpr": "'3/' + datum.value", "labelOffset": 19.47, "labelPadding": 1}},
  "y": {"datum": 2.2, "type": "quantitative", "title": null, "scale": {"type": "log", "domain": [10, 100000], "nice": false}, "axis": {"values": [100, 1000, 10000], "labelOverlap": false, "labelExpr": "datum.value > 5000 ? '10⁴' : (datum.value > 500 ? '10³' : '10²')"}}}}
]
}
],
"config": {
 "view": {"stroke": "black", "strokeWidth": 1, "fill": "white"},
 "axis": {"labelFont": "Liberation Sans", "labelFontSize": 11, "labelColor": "black", "ticks": false, "tickSize": 0, "domain": false, "grid": true, "gridColor": "black", "gridDash": [1, 3], "gridOpacity": 1, "gridWidth": 1, "labelPadding": 5, "labelFlush": false, "labelOverlap": false, "labelBound": false},
 "axisY": {"minExtent": 29, "maxExtent": 29}
}
}
